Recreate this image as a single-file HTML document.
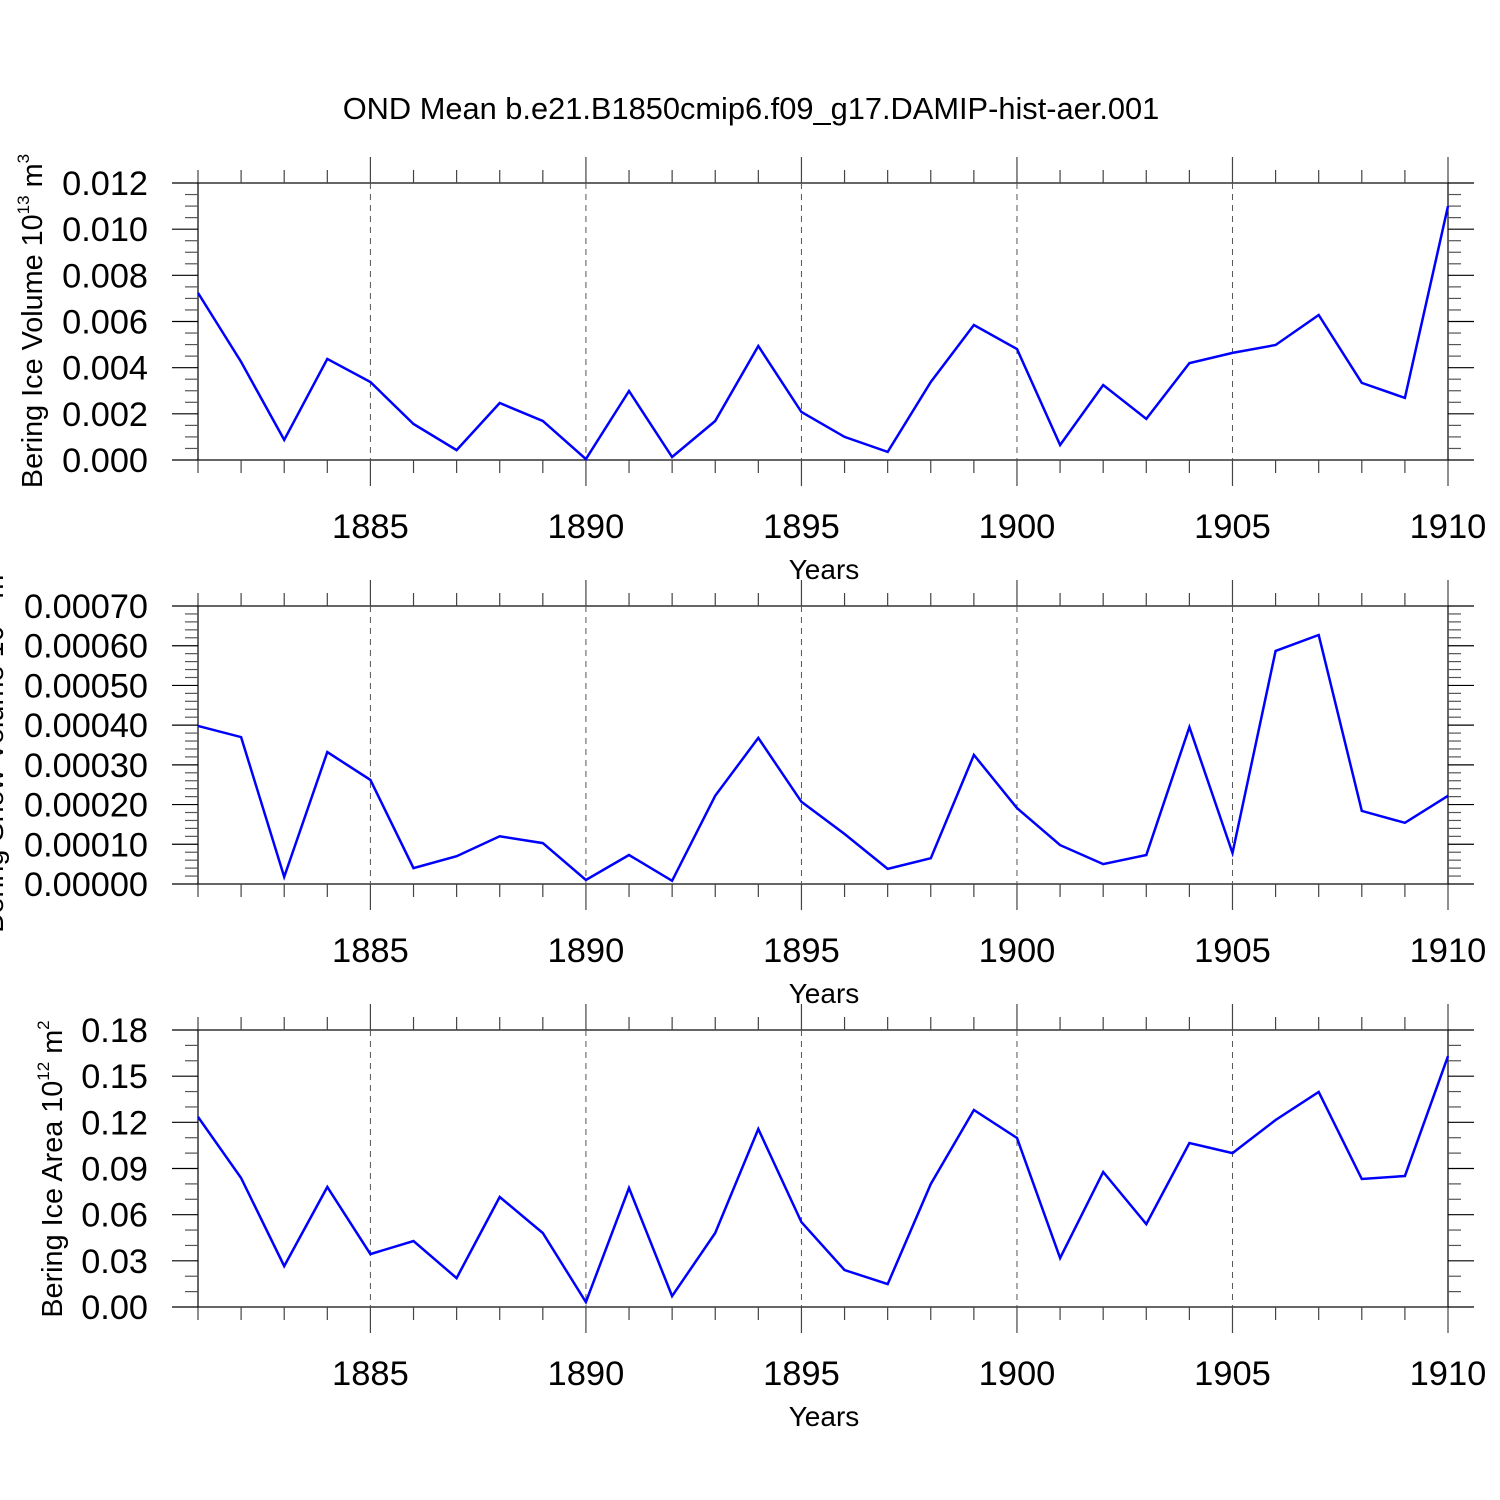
<!DOCTYPE html>
<html><head><meta charset="utf-8"><style>
html,body{margin:0;padding:0;background:#fff;}
svg{display:block;font-family:"Liberation Sans",sans-serif;}
</style></head><body>
<svg id="chart" width="1500" height="1500" viewBox="0 0 1500 1500" xmlns="http://www.w3.org/2000/svg">
<rect width="1500" height="1500" fill="#fff"/>
<text x="751" y="119" font-size="30.8" text-anchor="middle">OND Mean b.e21.B1850cmip6.f09_g17.DAMIP-hist-aer.001</text>
</svg>
<script>
const years = [1881,1882,1883,1884,1885,1886,1887,1888,1889,1890,1891,1892,1893,1894,1895,1896,1897,1898,1899,1900,1901,1902,1903,1904,1905,1906,1907,1908,1909,1910];
const iceVolume = [0.00724,0.00425,0.00087,0.00438,0.00338,0.00156,0.00043,0.00247,0.00169,0.00004,0.00299,0.00013,0.00169,0.00494,0.00208,0.00100,0.00035,0.00338,0.00585,0.00481,0.00065,0.00325,0.00178,0.00420,0.00464,0.00498,0.00628,0.00334,0.00269,0.01100];
const snowVolume = [0.000398,0.000370,0.000018,0.000332,0.000262,0.000040,0.000070,0.000120,0.000103,0.000010,0.000073,0.000008,0.000222,0.000368,0.000207,0.000126,0.000038,0.000065,0.000325,0.000191,0.000098,0.000050,0.000073,0.000395,0.000078,0.000587,0.000627,0.000184,0.000154,0.000222];
const iceArea = [0.1235,0.0838,0.0266,0.0780,0.0344,0.0429,0.0188,0.0715,0.0481,0.0032,0.0773,0.0071,0.0481,0.1157,0.0552,0.0240,0.0149,0.0799,0.1280,0.1098,0.0318,0.0877,0.0539,0.1066,0.1000,0.1215,0.1397,0.0832,0.0851,0.1630];
const xTickLabels = ['1885','1890','1895','1900','1905','1910'];
const volTicks = ['0.000','0.002','0.004','0.006','0.008','0.010','0.012'];
const snowTicks = ['0.00000','0.00010','0.00020','0.00030','0.00040','0.00050','0.00060','0.00070'];
const areaTicks = ['0.00','0.03','0.06','0.09','0.12','0.15','0.18'];

const NS='http://www.w3.org/2000/svg';
const svg=document.getElementById('chart');
function mk(tag,attrs,parent){const e=document.createElementNS(NS,tag);for(const k in attrs)e.setAttribute(k,attrs[k]);(parent||svg).appendChild(e);return e;}
const X0=198,X1=1448;
function xs(y){return X0+(y-1881)*(X1-X0)/29;}

function panel(name,top,bottom,data,ticks,minorN,labelParts,labelX,labelY){
  const g=mk('g',{});
  
  
  const vals=ticks.map(Number);
  const vmin=vals[0],vmax=vals[vals.length-1];
  const ys=v=>bottom-(v-vmin)*(bottom-top)/(vmax-vmin);
  const box=mk('rect',{x:X0,y:top,width:X1-X0,height:bottom-top,fill:'none',stroke:'#000','stroke-width':1.2},g);
  
  
  for(let yr=1881;yr<=1910;yr++){
    const x=xs(yr);const major=(yr%5===0);
    mk('line',{x1:x,x2:x,y1:top,y2:top-(major?26:13),stroke:'#444','stroke-width':1.2},g);
    mk('line',{x1:x,x2:x,y1:bottom,y2:bottom+(major?26:13),stroke:'#444','stroke-width':1.2},g);
    if(major && yr<1910){
      const gl=mk('line',{x1:x,x2:x,y1:top,y2:bottom,stroke:'#555','stroke-width':1,'stroke-dasharray':'6,5'},g);
      
      
    }
  }
  xTickLabels.forEach(l=>{
    const t=mk('text',{x:xs(+l),y:bottom+78,'font-size':34.5,'text-anchor':'middle'},g);
    t.textContent=l;
    
    
  });
  const xt=mk('text',{x:824,y:bottom+119,'font-size':28,'text-anchor':'middle'},g);
  xt.textContent='Years';
  
  
  const step=vals[1]-vals[0];
  for(let i=0;i<vals.length;i++){
    const y=ys(vals[i]);
    mk('line',{x1:X0-26,x2:X0,y1:y,y2:y,stroke:'#000','stroke-width':1.2},g);
    mk('line',{x1:X1,x2:X1+26,y1:y,y2:y,stroke:'#000','stroke-width':1.2},g);
    const t=mk('text',{x:148,y:y+12,'font-size':34.3,'text-anchor':'end'},g);
    t.textContent=ticks[i];
    
    
    if(i<vals.length-1){
      for(let m=1;m<=minorN;m++){
        const ym=ys(vals[i]+step*m/(minorN+1));
        mk('line',{x1:X0-13,x2:X0,y1:ym,y2:ym,stroke:'#555','stroke-width':1.2},g);
        mk('line',{x1:X1,x2:X1+13,y1:ym,y2:ym,stroke:'#555','stroke-width':1.2},g);
      }
    }
  }
  const yl=mk('text',{x:0,y:0,'font-size':28.8,'text-anchor':'middle',transform:`translate(${labelX},${labelY}) rotate(-90)`},g);
  
  
  const s1=mk('tspan',{},yl);s1.textContent=labelParts[0]+' 10';
  const s2=mk('tspan',{dy:-13,'font-size':17},yl);s2.textContent=labelParts[1];
  const s3=mk('tspan',{dy:13},yl);s3.textContent=' m';
  const s4=mk('tspan',{dy:-13,'font-size':17},yl);s4.textContent=labelParts[2];
  const pts=data.map((v,i)=>xs(years[i]).toFixed(1)+','+ys(v).toFixed(1)).join(' ');
  const pl=mk('polyline',{points:pts,fill:'none',stroke:'#0000ff','stroke-width':2.5,'stroke-linejoin':'miter'},g);
  
  
}
panel('ice-volume',183,460,iceVolume,volTicks,3,['Bering Ice Volume','13','3'],42,321);
panel('snow-volume',606,884,snowVolume,snowTicks,4,['Bering Snow Volume','13','3'],3,749);
panel('ice-area',1030,1307,iceArea,areaTicks,2,['Bering Ice Area','12','2'],62,1169);
</script>
</body></html>
